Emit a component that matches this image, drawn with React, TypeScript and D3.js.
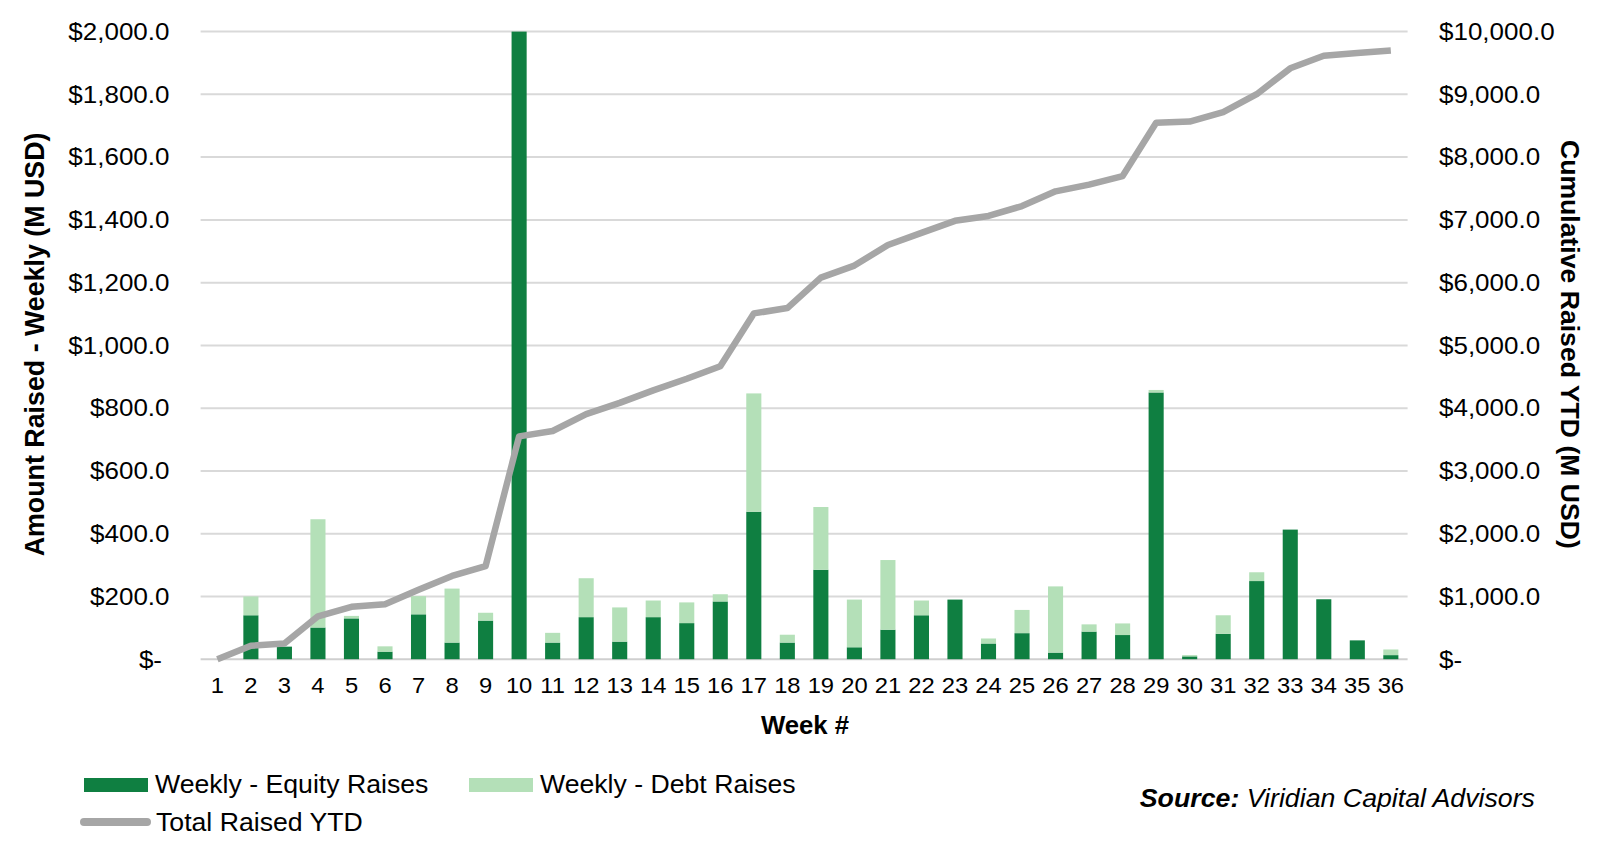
import React from "react";
import * as d3 from "d3";

const weeks = ["1","2","3","4","5","6","7","8","9","10","11","12","13","14","15","16","17","18","19","20","21","22","23","24","25","26","27","28","29","30","31","32","33","34","35","36"];
const equityRaises = [0,140,40,101,130,24,143,53,123,2000,53,134,56,134,115,184,470,53,285,38,94,140,190,50,83,21,88,77,850,9,81,249,413,191,60,13];
const debtRaises = [0,60,0,345,8,17,58,172,25,0,31,124,109,53,66,23,377,25,200,152,222,47,0,16,74,211,23,37,8,4,59,28,0,0,0,18];
const totalRaisedYTD = [0,214,250,684,834,877,1105,1326,1483,3551,3636,3906,4084,4284,4469,4669,5510,5595,6080,6272,6600,6793,6985,7063,7220,7455,7562,7698,8546,8567,8717,9002,9415,9615,9658,9700];
const leftTicks = [0,200,400,600,800,1000,1200,1400,1600,1800,2000];
const rightTicks = [0,1000,2000,3000,4000,5000,6000,7000,8000,9000,10000];

const W = 1600, H = 860;
const PL = 200.6, PR = 1407.6, PT = 31.6, PB = 659.2;
const EQ = "#0f7f41";
const DEBT = "#b4e0b8";
const LINE = "#a6a6a6";
const GRID = "#d9d9d9";
const FONT = "'Liberation Sans', Arial, sans-serif";

const fmt = (v: number) => (v === 0 ? "$-" : "$" + d3.format(",.1f")(v));

export default function App() {
  const x = d3.scaleBand<string>().domain(weeks).range([PL, PR]).paddingInner(0.55).paddingOuter(0.275);
  const yL = d3.scaleLinear().domain([0, 2000]).range([PB, PT]);
  const yR = d3.scaleLinear().domain([0, 10000]).range([PB, PT]);
  const cx = (w: string) => (x(w) as number) + x.bandwidth() / 2;
  const line = d3.line<number>().x((_, i) => cx(weeks[i])).y((d) => yR(d));
  const sx = 1.13;

  return (
    <svg width={W} height={H} style={{ position: "absolute", left: 0, top: 0, background: "#fff" }} fontFamily={FONT}>
      <rect x={0} y={0} width={W} height={H} fill="#fff" />
      {leftTicks.map((t) => (
        <line key={"g" + t} x1={PL} x2={PR} y1={yL(t)} y2={yL(t)} stroke={t === 0 ? "#cfcfcf" : GRID} strokeWidth={2} />
      ))}
      {leftTicks.map((t) => (
        <text key={"l" + t} transform={`translate(${t === 0 ? 162 : 169.5},${yL(t) + 8.3}) scale(${sx},1)`} textAnchor="end" fontSize={23} fill="#000">
          {fmt(t)}
        </text>
      ))}
      {rightTicks.map((t) => (
        <text key={"r" + t} transform={`translate(1439,${yR(t) + 8.3}) scale(${sx},1)`} textAnchor="start" fontSize={23} fill="#000">
          {fmt(t)}
        </text>
      ))}
      {weeks.map((w, i) => (
        <g key={"b" + w}>
          {equityRaises[i] > 0 && (
            <rect x={x(w)} width={x.bandwidth()} y={yL(equityRaises[i])} height={yL(0) - yL(equityRaises[i])} fill={EQ} />
          )}
          {debtRaises[i] > 0 && (
            <rect x={x(w)} width={x.bandwidth()} y={yL(equityRaises[i] + debtRaises[i])} height={yL(equityRaises[i]) - yL(equityRaises[i] + debtRaises[i])} fill={DEBT} />
          )}
        </g>
      ))}
      <path d={line(totalRaisedYTD) || ""} fill="none" stroke={LINE} strokeWidth={6.5} strokeLinejoin="round" />
      {weeks.map((w) => (
        <text key={"x" + w} transform={`translate(${cx(w)},693) scale(1.08,1)`} textAnchor="middle" fontSize={22} fill="#000">
          {w}
        </text>
      ))}
      <text transform={`translate(44,${(PT + PB) / 2 - 1}) rotate(-90)`} textAnchor="middle" fontSize={26.8} fontWeight="bold" fill="#000">
        Amount Raised - Weekly (M USD)
      </text>
      <text transform={`translate(1561,${(PT + PB) / 2 - 1}) rotate(90)`} textAnchor="middle" fontSize={26.6} fontWeight="bold" fill="#000">
        Cumulative Raised YTD (M USD)
      </text>
      <text transform="translate(805,734) scale(1.03,1)" textAnchor="middle" fontSize={25} fontWeight="bold" fill="#000">
        Week #
      </text>
      <rect x={84} y={778} width={64} height={14} fill={EQ} />
      <text transform="translate(155,793) scale(1.025,1)" fontSize={26} fill="#000">Weekly - Equity Raises</text>
      <rect x={469} y={778} width={64} height={14} fill={DEBT} />
      <text transform="translate(540,793) scale(1.025,1)" fontSize={26} fill="#000">Weekly - Debt Raises</text>
      <line x1={84} x2={147} y1={822} y2={822} stroke={LINE} strokeWidth={8} strokeLinecap="round" />
      <text transform="translate(156,831) scale(1.025,1)" fontSize={26} fill="#000">Total Raised YTD</text>
      <text transform="translate(1535,807) scale(1.07,1)" textAnchor="end" fontSize={25} fontStyle="italic" fill="#000">
        <tspan fontWeight="bold">Source:</tspan> Viridian Capital Advisors
      </text>
    </svg>
  );
}
